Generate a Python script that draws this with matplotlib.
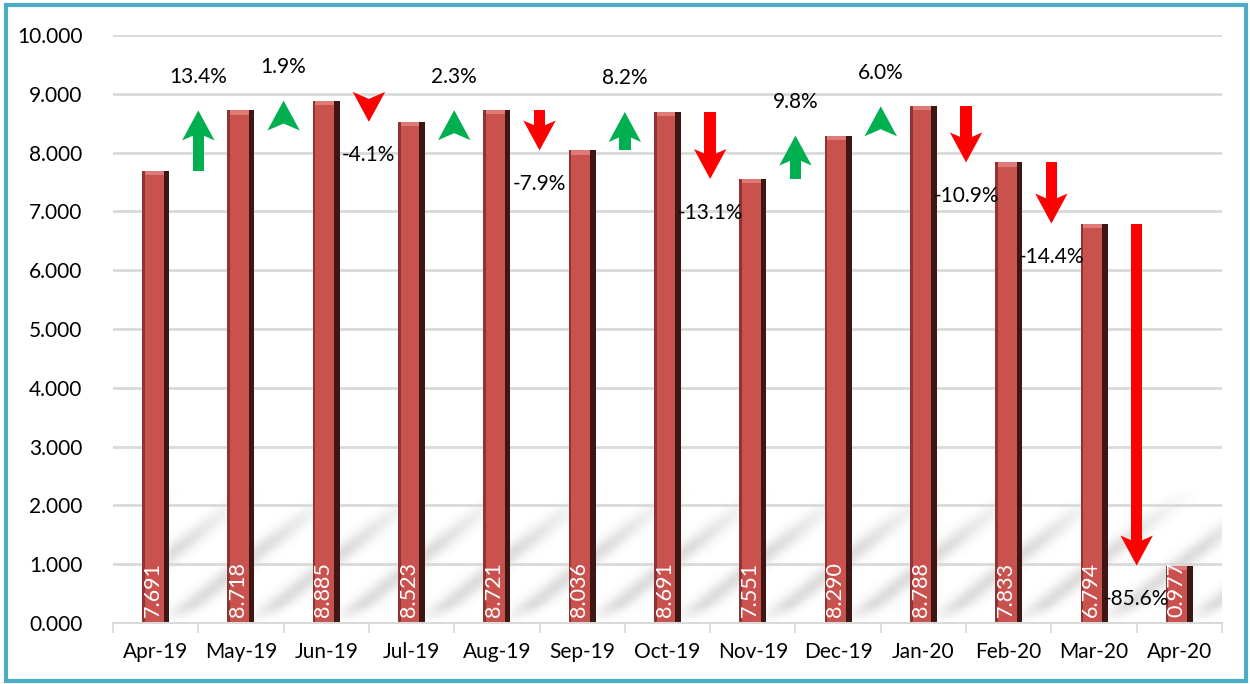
import matplotlib.pyplot as plt
import numpy as np
from matplotlib.patches import Polygon, Rectangle

plt.rcParams['font.family'] = ['Lato', 'DejaVu Sans']

months = ['Apr-19', 'May-19', 'Jun-19', 'Jul-19', 'Aug-19', 'Sep-19', 'Oct-19',
          'Nov-19', 'Dec-19', 'Jan-20', 'Feb-20', 'Mar-20', 'Apr-20']
values = [7.691, 8.718, 8.885, 8.523, 8.721, 8.036, 8.691,
          7.551, 8.290, 8.788, 7.833, 6.794, 0.977]
pct_change = [13.4, 1.9, -4.1, 2.3, -7.9, 8.2, -13.1, 9.8, 6.0, -10.9, -14.4, -85.6]

green = '#00B050'
red = '#FF0000'
bar_face = '#C9524F'
bar_side = '#3E1715'

fig = plt.figure(figsize=(12.5, 6.84), dpi=100)
ax = fig.add_axes([0.0904, 0.0892, 0.8872, 0.8596])

x = np.arange(len(months))
ax.set_xlim(-0.5, len(months) - 0.5)
ax.set_ylim(0, 10)

# soft diagonal bar shadows in the lower part of the plot
gx, gy = np.meshgrid(np.linspace(-0.5, 12.5, 1100), np.linspace(0, 2.6, 220))
px = (gx + 0.5) * 85.3
py = gy * 59.0
t = (px - py / 0.8 - 56.0) % 85.3
d = np.minimum(t, 85.3 - t)
band = np.exp(-(d / 14.0) ** 2)
fade = np.clip((2.3 - gy) / 1.0, 0, 1) * np.clip(gy / 0.3, 0, 1) * np.clip((px - 40) / 20.0, 0, 1)
alpha = band * fade * 0.26
img = np.zeros(gx.shape + (4,))
img[..., :3] = 0.5
img[..., 3] = alpha
ax.imshow(img, extent=(-0.5, 12.5, 0, 2.6), origin='lower', aspect='auto', zorder=0.5)

ax.set_yticks(np.arange(0, 11, 1))
ax.set_yticklabels(['{:.3f}'.format(v) for v in np.arange(0, 11, 1)])
ax.yaxis.grid(True, color='#D9D9D9', linewidth=2)
ax.set_axisbelow(True)
ax.tick_params(axis='y', length=0, labelsize=15, pad=22)

ax.set_xticks(x)
ax.set_xticklabels(months)
ax.set_xticks(np.arange(-0.5, len(months), 1), minor=True)
ax.tick_params(axis='x', which='major', length=0, labelsize=15, pad=14)
ax.tick_params(axis='x', which='minor', length=7, color='#D9D9D9', width=1.2)

for s in ['top', 'right', 'left']:
    ax.spines[s].set_visible(False)
ax.spines['bottom'].set_color('#D9D9D9')
ax.spines['bottom'].set_linewidth(1.5)

# bars with a dark side face
face_w = 0.25
side_w = 0.066
ax.bar(x - side_w / 2, values, width=face_w, color=bar_face, zorder=2)
ax.bar(x + face_w / 2, values, width=side_w, color=bar_side, zorder=2)
for xi, v in zip(x, values):
    ax.add_patch(Rectangle((xi - side_w / 2 - face_w / 2, v - 0.07), face_w, 0.07,
                           color='#E07A77', zorder=2.5, linewidth=0))
    ax.add_patch(Rectangle((xi - side_w / 2 - face_w / 2, 0), 0.03, v,
                           color='#8E3532', zorder=2.5, linewidth=0))
    ax.text(xi - side_w / 2, 0.1, '{:.3f}'.format(v), rotation=90, color='white',
            ha='center', va='bottom', fontsize=15.5, zorder=3)

# change arrows and percentage labels
head_len = 0.51
head_half = 0.19
shaft_half = 0.068
notch = 0.12
for i in range(1, len(values)):
    xm = i - 0.5
    y0 = values[i - 1]
    y1 = values[i]
    sign = 1 if y1 > y0 else -1
    col = green if sign > 0 else red
    base = y1 - sign * head_len
    if (base - y0) * sign > 0:
        ax.add_patch(Polygon([(xm - shaft_half, y0), (xm + shaft_half, y0),
                              (xm + shaft_half, base + sign * notch),
                              (xm - shaft_half, base + sign * notch)],
                             closed=True, color=col, linewidth=0, zorder=4))
    ax.add_patch(Polygon([(xm - head_half, base), (xm, y1), (xm + head_half, base),
                          (xm, base + sign * notch)],
                         closed=True, color=col, linewidth=0, zorder=4))
    p = pct_change[i - 1]
    ypos = y1 + 0.57 if p > 0 else y1 - 0.57
    ax.text(xm, ypos, '{:.1f}%'.format(p), ha='center', va='center',
            fontsize=15, color='black', zorder=5)

# outer frame
fig.patches.append(Rectangle((0.005, 0.004), 0.992, 0.988, transform=fig.transFigure,
                             fill=False, edgecolor='#4BACC6', linewidth=3))

fig.savefig('out.png', dpi=100)
